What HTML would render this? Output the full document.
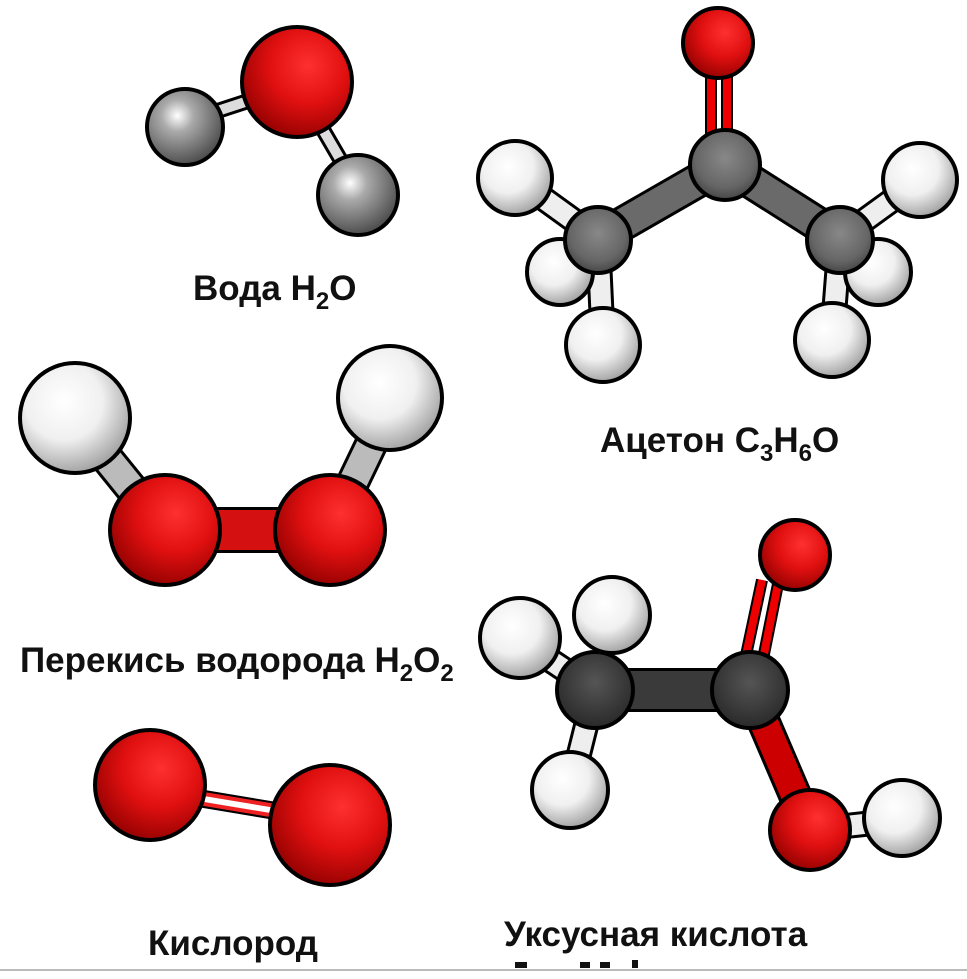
<!DOCTYPE html>
<html><head><meta charset="utf-8"><style>
html,body{margin:0;padding:0;background:#fff;width:967px;height:979px;overflow:hidden}
svg{display:block}
text{font-family:"Liberation Sans",Arial,sans-serif;font-weight:bold;fill:#111}
</style></head><body>
<svg width="967" height="979" viewBox="0 0 967 979" xmlns="http://www.w3.org/2000/svg">
<defs>
<radialGradient id="r" cx="0.6" cy="0.35" r="0.7"><stop offset="0" stop-color="#ff3030"/><stop offset="0.5" stop-color="#e01010"/><stop offset="1" stop-color="#900000"/></radialGradient>
<radialGradient id="h" cx="0.4" cy="0.35" r="0.7"><stop offset="0" stop-color="#ffffff"/><stop offset="0.5" stop-color="#f0f0f0"/><stop offset="1" stop-color="#999"/></radialGradient>
<radialGradient id="g" cx="0.4" cy="0.35" r="0.7"><stop offset="0" stop-color="#fff"/><stop offset="0.3" stop-color="#aaa"/><stop offset="1" stop-color="#444"/></radialGradient>
<radialGradient id="c" cx="0.5" cy="0.4" r="0.7"><stop offset="0" stop-color="#888"/><stop offset="0.6" stop-color="#666"/><stop offset="1" stop-color="#333"/></radialGradient>
<radialGradient id="k" cx="0.5" cy="0.4" r="0.7"><stop offset="0" stop-color="#555"/><stop offset="1" stop-color="#222"/></radialGradient>
</defs>
<g stroke="#000" stroke-width="4">
<line x1="297" y1="85" x2="190" y2="120" stroke-width="16"/><line x1="297" y1="85" x2="190" y2="120" stroke="#ddd" stroke-width="10"/>
<line x1="297" y1="85" x2="358" y2="190" stroke-width="16"/><line x1="297" y1="85" x2="358" y2="190" stroke="#ddd" stroke-width="10"/>
<circle cx="185" cy="127" r="38" fill="url(#g)"/>
<circle cx="358" cy="195" r="40" fill="url(#g)"/>
<circle cx="297" cy="82" r="55" fill="url(#r)"/>
<line x1="711" y1="70" x2="711" y2="135" stroke-width="12"/><line x1="711" y1="70" x2="711" y2="135" stroke="#e00" stroke-width="8"/>
<line x1="727" y1="70" x2="727" y2="135" stroke-width="12"/><line x1="727" y1="70" x2="727" y2="135" stroke="#e00" stroke-width="8"/>
<line x1="598" y1="238" x2="515" y2="178" stroke-width="26"/><line x1="598" y1="238" x2="515" y2="178" stroke="#eee" stroke-width="20"/>
<line x1="598" y1="238" x2="603" y2="345" stroke-width="26"/><line x1="598" y1="238" x2="603" y2="345" stroke="#eee" stroke-width="20"/>
<line x1="840" y1="238" x2="920" y2="180" stroke-width="26"/><line x1="840" y1="238" x2="920" y2="180" stroke="#eee" stroke-width="20"/>
<line x1="840" y1="238" x2="832" y2="340" stroke-width="26"/><line x1="840" y1="238" x2="832" y2="340" stroke="#eee" stroke-width="20"/>
<circle cx="560" cy="272" r="33" fill="url(#h)"/>
<circle cx="878" cy="272" r="33" fill="url(#h)"/>
<line x1="598" y1="238" x2="725" y2="165" stroke-width="36"/><line x1="598" y1="238" x2="725" y2="165" stroke="#6a6a6a" stroke-width="30"/>
<line x1="840" y1="238" x2="725" y2="165" stroke-width="36"/><line x1="840" y1="238" x2="725" y2="165" stroke="#6a6a6a" stroke-width="30"/>
<circle cx="718" cy="43" r="35" fill="url(#r)"/>
<circle cx="725" cy="165" r="35" fill="url(#c)"/>
<circle cx="598" cy="240" r="33" fill="url(#c)"/>
<circle cx="840" cy="240" r="33" fill="url(#c)"/>
<circle cx="515" cy="178" r="37" fill="url(#h)"/>
<circle cx="920" cy="180" r="37" fill="url(#h)"/>
<circle cx="603" cy="345" r="37" fill="url(#h)"/>
<circle cx="832" cy="340" r="37" fill="url(#h)"/>
<line x1="80" y1="425" x2="165" y2="530" stroke-width="34"/><line x1="80" y1="425" x2="165" y2="530" stroke="#bbb" stroke-width="28"/>
<line x1="390" y1="405" x2="330" y2="530" stroke-width="34"/><line x1="390" y1="405" x2="330" y2="530" stroke="#bbb" stroke-width="28"/>
<line x1="165" y1="530" x2="330" y2="530" stroke-width="46"/><line x1="165" y1="530" x2="330" y2="530" stroke="#d41010" stroke-width="40"/>
<circle cx="75" cy="418" r="55" fill="url(#h)"/>
<circle cx="390" cy="398" r="52" fill="url(#h)"/>
<circle cx="165" cy="530" r="55" fill="url(#r)"/>
<circle cx="330" cy="530" r="55" fill="url(#r)"/>
<line x1="150" y1="790" x2="330" y2="820" stroke-width="18"/>
<line x1="150" y1="790" x2="330" y2="820" stroke="#fff" stroke-width="12"/>
<line x1="150" y1="785" x2="330" y2="815" stroke="#e22" stroke-width="4"/><line x1="150" y1="795" x2="330" y2="825" stroke="#e22" stroke-width="4"/>
<circle cx="150" cy="785" r="55" fill="url(#r)"/>
<circle cx="330" cy="825" r="60" fill="url(#r)"/>
<line x1="762" y1="580" x2="745" y2="660" stroke-width="12"/><line x1="762" y1="580" x2="745" y2="660" stroke="#e00" stroke-width="8"/>
<line x1="778" y1="584" x2="762" y2="664" stroke-width="12"/><line x1="778" y1="584" x2="762" y2="664" stroke="#e00" stroke-width="8"/>
<line x1="595" y1="690" x2="520" y2="640" stroke-width="26"/><line x1="595" y1="690" x2="520" y2="640" stroke="#eee" stroke-width="20"/>
<line x1="595" y1="690" x2="570" y2="790" stroke-width="26"/><line x1="595" y1="690" x2="570" y2="790" stroke="#eee" stroke-width="20"/>
<line x1="750" y1="690" x2="810" y2="830" stroke-width="34"/><line x1="750" y1="690" x2="810" y2="830" stroke="#c00" stroke-width="28"/>
<line x1="810" y1="830" x2="900" y2="820" stroke-width="26"/><line x1="810" y1="830" x2="900" y2="820" stroke="#eee" stroke-width="20"/>
<circle cx="612" cy="615" r="38" fill="url(#h)"/>
<line x1="595" y1="690" x2="750" y2="690" stroke-width="44"/><line x1="595" y1="690" x2="750" y2="690" stroke="#3a3a3a" stroke-width="38"/>
<circle cx="795" cy="555" r="35" fill="url(#r)"/>
<circle cx="595" cy="690" r="38" fill="url(#k)"/>
<circle cx="750" cy="690" r="38" fill="url(#k)"/>
<circle cx="520" cy="638" r="40" fill="url(#h)"/>
<circle cx="570" cy="790" r="38" fill="url(#h)"/>
<circle cx="810" cy="830" r="40" fill="url(#r)"/>
<circle cx="902" cy="818" r="38" fill="url(#h)"/>
</g>
<text x="193" y="300" font-size="35">Вода H<tspan font-size="24" dy="9">2</tspan><tspan dy="-9">O</tspan></text>
<text x="600" y="452" font-size="35">Ацетон C<tspan font-size="24" dy="9">3</tspan><tspan dy="-9">H</tspan><tspan font-size="24" dy="9">6</tspan><tspan dy="-9">O</tspan></text>
<text x="20" y="672" font-size="35">Перекись водорода H<tspan font-size="24" dy="9">2</tspan><tspan dy="-9">O</tspan><tspan font-size="24" dy="9">2</tspan></text>
<text x="148" y="955" font-size="35">Кислород</text>
<text x="504" y="946" font-size="35">Уксусная кислота</text>
<rect x="515" y="962" width="12" height="6" fill="#111"/><rect x="580" y="962" width="10" height="6" fill="#111"/><rect x="600" y="962" width="10" height="6" fill="#111"/><rect x="632" y="960" width="6" height="8" fill="#111"/>
<rect x="0" y="969" width="967" height="2" fill="#bbb"/>
</svg>
</body></html>
